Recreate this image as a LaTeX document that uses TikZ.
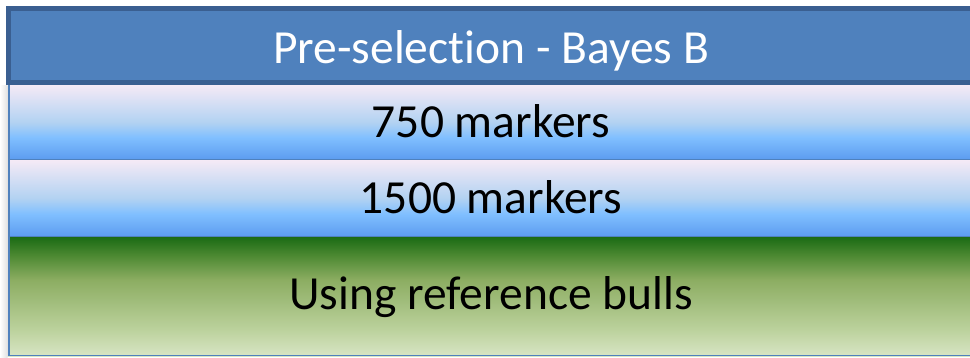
\documentclass[tikz,border=0pt]{standalone}
\usepackage{fontspec}
\setmainfont[Ligatures=NoCommon]{Carlito}
\definecolor{hdrfill}{HTML}{4F81BD}
\definecolor{hdrline}{HTML}{3A5F91}
\definecolor{rowline}{HTML}{4F81BD}
% light lavender to sky blue band
\pgfdeclareverticalshading{bandblue}{100bp}{%
  color(0bp)=({rgb,255:red,91;green,155;blue,239});
  color(25bp)=({rgb,255:red,91;green,155;blue,239});
  color(40bp)=({rgb,255:red,128;green,191;blue,255});
  color(50bp)=({rgb,255:red,178;green,210;blue,242});
  color(75bp)=({rgb,255:red,245;green,234;blue,246});
  color(100bp)=({rgb,255:red,245;green,234;blue,246})}
% dark green to pale green band
\pgfdeclareverticalshading{bandgreen}{100bp}{%
  color(0bp)=({rgb,255:red,216;green,229;blue,196});
  color(25bp)=({rgb,255:red,216;green,229;blue,196});
  color(36bp)=({rgb,255:red,188;green,210;blue,157});
  color(57bp)=({rgb,255:red,140;green,173;blue,98});
  color(67bp)=({rgb,255:red,78;green,138;blue,51});
  color(75bp)=({rgb,255:red,27;green,107;blue,20});
  color(100bp)=({rgb,255:red,27;green,107;blue,20})}
\tikzset{
  label text/.style={font=\fontsize{47.5}{52}\selectfont, anchor=base, inner sep=0pt},
  band edge/.style={draw=rowline, line width=1.5pt},
}
\begin{document}
\begin{tikzpicture}[x=1pt, y=-1pt]
  \useasboundingbox (0,0) rectangle (970,357);
  \clip (0,0) rectangle (970,357);
  % soft shadow along the left side of the stack
  \shade[left color=white, right color=black!12] (0,85) rectangle (7.5,357);
  % header bar
  \fill[hdrfill] (6,6) rectangle (990,84);
  \draw[hdrline, line width=5pt] (8.5,8.5) rectangle (990,82);
  % stacked bands
  \shade[shading=bandblue] (8,85) rectangle (990,160);
  \draw[band edge] (8.75,85) -- (8.75,160) -- (990,160);
  \shade[shading=bandblue] (8,160) rectangle (990,237);
  \draw[band edge] (8.75,160) -- (8.75,237) -- (990,237);
  \shade[shading=bandgreen] (8,237) rectangle (990,356);
  \draw[band edge] (8.75,237) -- (8.75,355.5) -- (990,355.5);
  % labels
  \node[label text, text=white] (hdr) at (491,63) {Pre-selection - Bayes B};
  \node[label text] (m750) at (491,137) {750 markers};
  \node[label text] (m1500) at (491,213) {1500 markers};
  \node[label text] (bulls) at (491,309) {Using reference bulls};
\end{tikzpicture}
\end{document}
